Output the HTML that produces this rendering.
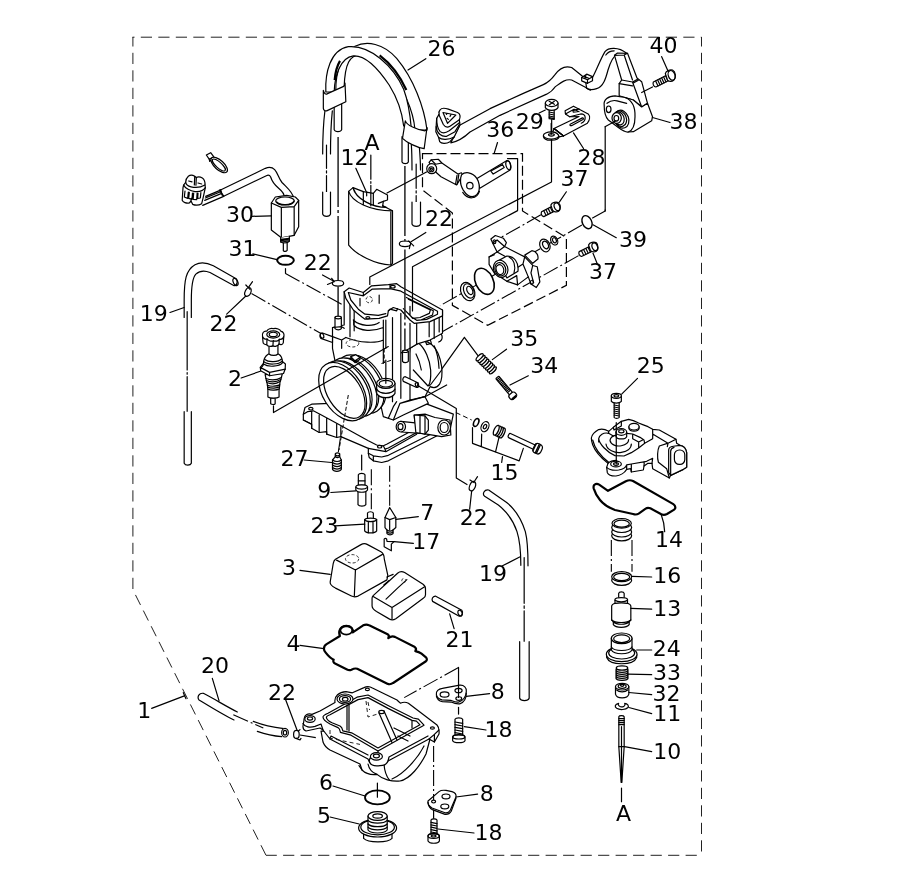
<!DOCTYPE html>
<html><head><meta charset="utf-8"><title>Carburetor</title>
<style>
html,body{margin:0;padding:0;background:#fff;}
svg{display:block}
text{font-family:"DejaVu Sans","Liberation Sans",sans-serif;font-size:22px;fill:#000;}
.l{fill:none;stroke:#000;stroke-width:1.2;stroke-linecap:round;stroke-linejoin:round}
.w{fill:#fff;stroke:#000;stroke-width:1.2;stroke-linecap:round;stroke-linejoin:round}
.d{fill:none;stroke:#222;stroke-width:1;stroke-dasharray:11.2 6.3}
.c{fill:none;stroke:#000;stroke-width:1.1;stroke-dasharray:16 3 2 3}
.t{fill:none;stroke:#000;stroke-width:0.75}
.r{fill:none;stroke:#222;stroke-width:1.5;stroke-dasharray:70 3 3 3}
.d2{fill:none;stroke:#000;stroke-width:1.2;stroke-dasharray:10 4}
.z *{vector-effect:non-scaling-stroke}
.g{fill:none;stroke:#000;stroke-width:2.2;stroke-linejoin:round}
</style></head><body>
<svg width="903" height="870" viewBox="0 0 903 870">
<rect width="903" height="870" fill="#fff"/>
<!-- BORDER -->
<path class="d" d="M132.5 37.2H701.5" stroke-dashoffset="9.2"/>
<path class="d" d="M701.5 37V855.3" stroke-dashoffset="1.7"/>
<path class="d" d="M132.9 37V590.5" stroke-dashoffset="1.7"/>
<path class="d" d="M133.5 591L266 855.3" stroke-dashoffset="13.1"/>
<path class="d" d="M266 855.3H701.5" stroke-dashoffset="0.4"/>
<!-- PARTS -->
<!-- part 30 area, 6x from (170,140) -->
<g transform="translate(170,140) scale(0.16667)" class="z">
<!-- tube -->
<path class="w" d="M744,352 C735,310 700,285 672,255 C650,228 648,200 628,178 C612,162 592,162 572,170 L300,302 L322,338 L578,214 C590,208 598,210 604,222 C612,250 630,272 655,292 C680,312 690,330 684,354 Z"/>
<path class="l" d="M296,300 L322,338 M304,297 L312,330"/>
<!-- wires -->
<path class="l" d="M300,302 L214,338 M310,320 L208,362 M322,338 L196,392 M300,312 L212,348"/>
<!-- solenoid -->
<path class="w" d="M608,378 L632,342 L700,332 L752,342 L772,362 L772,520 L745,572 L668,587 L608,540 Z"/>
<path class="l" d="M608,378 L668,404 L745,400 L772,362 M668,404 V587 M745,400 V572"/>
<ellipse class="l" cx="690" cy="366" rx="56" ry="24"/>
<path class="l" d="M640,372 C660,395 730,392 744,366"/>
<path class="w" d="M664,586 V612 L680,618 V664 C688,670 698,668 703,662 V616 L716,608 V578"/>
<path class="l" d="M664,596 L716,590 M664,604 L716,598 M664,612 L716,606 M680,618 L703,616"/>
<!-- o-ring 31 -->
<ellipse cx="693" cy="722" rx="50" ry="27" fill="none" stroke="#000" stroke-width="2"/>
<!-- leaders -->
<path class="l" d="M490,458 L608,455 M497,683 L642,718"/>
<path class="l" d="M693,772 V800"/>
<!-- connector -->
<g transform="translate(30,30) scale(0.4)">
<path class="w" d="M160,560 C160,520 175,490 200,468 C225,450 265,450 295,468 L318,488 C340,478 380,478 410,495 C440,515 452,560 450,600 L455,640 L420,800 L400,880 C360,905 300,905 265,890 L240,840 L215,870 C170,880 120,860 108,830 L120,640 L130,600 Z"/>
<path class="l" d="M160,560 C165,590 190,615 240,628 C290,640 380,640 450,600 M130,600 C150,650 230,690 300,698 C360,705 420,690 455,640 M296,470 L290,600 M320,490 L314,604 M205,540 L255,552 M345,570 L400,585 M150,690 L140,780 L190,800 L200,705 M215,712 L205,800 L255,815 L262,720 M280,722 L272,815 L325,820 L332,722 M345,725 L340,800 L380,795 L388,715 M240,840 L245,800"/>
</g>
<!-- clip -->
<path class="w" d="M218,90 L244,76 L262,100 L236,116 Z"/>
<path class="l" d="M236,116 L238,128 L262,112 L262,100"/>
<ellipse class="w" cx="295" cy="150" rx="62" ry="28" transform="rotate(42 295 150)"/>
<ellipse class="l" cx="293" cy="150" rx="50" ry="17" transform="rotate(42 293 150)"/>
</g>

<!-- hoses 26, 6x from (300,30) -->
<g transform="translate(300,30) scale(0.16667)" class="z">
<!-- lower legs -->
<path class="w" d="M205,440 V598 C210,614 245,614 250,598 V420 Z"/>
<path class="w" d="M612,640 V792 C618,805 645,805 650,792 V660 Z"/>
<path class="l" d="M150,480 C140,560 136,650 136,744 M194,485 C186,560 183,650 183,744"/>
<path class="l" d="M159,690 V830 M159,845 V858 M159,873 V1010"/>
<path class="w" d="M136,972 V1105 C141,1122 178,1122 183,1105 V972"/>
<path class="l" d="M668,690 C672,740 672,790 672,840 M716,700 C720,750 723,790 723,840"/>
<path class="l" d="M697,804 V950 M697,965 V978 M697,993 V1075"/>
<path class="w" d="M672,1032 V1165 C677,1182 718,1182 723,1165 V1032"/>
<!-- rear tube -->
<path class="w" d="M215,365 C213,250 250,140 330,98 C400,62 500,80 580,170 C680,290 745,460 762,600 L690,600 C680,480 620,350 540,260 C480,200 420,160 360,150 C300,150 270,200 265,340 Z"/>
<!-- front tube -->
<path class="w" d="M155,372 C150,260 180,120 290,100 C420,88 560,215 622,355 C650,430 662,520 668,592 L622,575 C612,490 585,410 535,330 C475,240 400,150 320,155 C240,165 208,280 205,372 Z"/>
<path d="M208,300 C212,250 222,215 240,185 M478,152 C548,205 600,275 638,360" fill="none" stroke="#000" stroke-width="2.2"/>
<!-- clamps -->
<path class="w" d="M140,362 C145,385 155,388 165,382 L262,338 C270,332 272,325 270,318 L275,430 L160,485 C148,488 142,480 140,470 Z"/>
<path class="w" d="M632,545 C640,570 700,600 750,605 C760,600 765,592 762,585 L745,712 C700,705 640,675 615,650 Z"/>
<!-- leader 26 -->
<path class="l" d="M755,172 L648,240"/>
</g>
<!-- slide 12 etc, 6x from (300,175) -->
<g transform="translate(300,175) scale(0.16667)" class="z">
<path class="w" d="M380,100 L440,110 L460,86 L525,120 V150 L500,158 L496,185 L555,215 V530 L545,540 C450,535 340,480 292,420 V98 L318,76 L380,100 Z"/>
<path class="l" d="M292,98 C310,160 420,215 555,215 M318,78 C335,140 430,195 520,195 L496,185 M380,100 V180 M440,110 V180 M400,100 V125 M545,222 V540 M470,170 L500,158 M318,76 L330,100"/>
<!-- clips 22 -->
<ellipse class="w" cx="228" cy="650" rx="34" ry="17"/>
<path class="l" d="M165,657 L200,642 M190,620 L206,640"/>
<ellipse class="w" cx="630" cy="413" rx="34" ry="17"/>
<path class="l" d="M652,395 L682,425 M656,442 L660,422"/>
<path class="l" d="M755,345 L666,400 M135,600 L198,634"/>
<!-- 12 leader and A line -->
<path class="l" d="M335,-40 L395,95"/>
<path class="l" d="M425,-120 V25 M425,40 V50 M425,62 V185"/>
</g>

<!-- hose+connector, 6x from (420,60) -->
<g transform="translate(420,60) scale(0.16667)" class="z">
<!-- hose -->
<path class="w" d="M238,392 L420,292 L620,200 L740,148 C770,135 790,115 810,88 C840,45 870,32 910,45 L975,98 L1035,105 C1060,60 1080,0 1110,-50 C1130,-75 1190,-80 1240,-40 L1180,-32 C1155,-20 1140,20 1128,60 C1115,110 1100,160 1060,172 C1030,182 1010,180 995,165 L910,120 C870,112 840,140 810,162 C800,178 780,195 760,205 L480,332 L300,432 C260,470 230,488 185,497 Z"/>
<!-- connector -->
<path class="w" d="M120,300 C130,285 150,288 170,295 L225,315 C245,325 242,345 236,360 L240,390 L205,462 L180,490 C160,502 130,505 118,490 L112,465 L95,430 L100,350 L115,325 C112,312 115,305 120,300 Z"/>
<path class="l" d="M236,358 L180,397 C165,407 150,402 140,387 L113,327 M138,315 L215,330 L165,380 Z M100,350 C100,390 108,415 120,428 C135,442 155,438 175,425 L238,375 M97,400 C100,440 130,462 160,458 L210,430 L236,388 M112,465 C130,480 170,480 205,462 M155,320 L160,326 M185,330 L180,338 M163,350 L170,356"/>
<!-- lever 36 -->
<g transform="translate(-120,540) scale(1.069)">
<path class="w" d="M432,160 L598,60 C618,55 625,85 618,112 L448,215 Z"/>
<path class="l" d="M510,118 L575,82 L585,98 L523,135 Z"/>
<ellipse class="l" cx="608" cy="86" rx="13" ry="26" transform="rotate(-15 608 86)"/>
<path class="w" d="M163,70 L175,55 L215,52 L235,73 L325,135 L345,128 L352,140 L318,196 L230,150 L205,128 Z"/>
<path class="l" d="M320,142 L312,192 M330,138 L322,190 M175,55 L200,80 L235,73"/>
<path class="w" d="M345,140 C355,130 372,126 385,128 C405,132 420,142 430,158 C442,175 447,200 444,225 C440,245 425,260 405,262 C385,262 368,245 355,225 C345,208 338,190 340,170 C340,158 342,148 345,140 Z"/>
<circle class="l" cx="392" cy="200" r="18"/>
<path class="l" d="M352,238 C365,258 385,270 405,268 C425,266 440,250 446,232"/>
<circle class="w" cx="178" cy="105" r="28"/>
<circle class="l" cx="176" cy="108" r="14"/>
<circle class="l" cx="176" cy="108" r="6"/>
</g>
<path class="l" d="M465,495 L445,560"/>
<!-- screw 29 -->
<path class="w" d="M775,298 V352 L805,356 V298 Z"/>
<path class="l" d="M775,312 L805,318 M775,324 L805,330 M775,336 L805,342 M775,346 L805,352"/>
<path class="w" d="M752,258 V286 C765,308 815,308 828,286 V258 Z"/>
<ellipse class="w" cx="790" cy="258" rx="38" ry="22"/>
<path class="l" d="M775,248 L806,266 M806,248 L776,268"/>
<path class="l" d="M715,318 L752,300  M790,357 V455"/>
</g>
<!-- bracket 28, 8.97x from (530,90) -->
<g transform="translate(530,90) scale(0.11148)" class="z">
<path class="w" d="M315,187 L390,145 L522,215 C540,235 538,270 515,298 L300,412 L215,346 L440,238 L355,240 L318,215 Z"/>
<path class="l" d="M318,215 L395,172 L440,195 M385,185 L440,170 M385,185 L388,198 L425,195 M355,240 L455,215 C480,215 495,230 495,250 C495,270 480,290 460,298 M360,308 L470,250 C480,248 482,258 475,264 L372,320 C360,322 355,314 360,308 Z M215,346 L300,412"/>
<ellipse class="w" cx="190" cy="408" rx="70" ry="32"/>
<path class="l" d="M120,415 C125,440 160,452 195,450 C230,450 258,435 262,415"/>
<ellipse class="l" cx="192" cy="402" rx="26" ry="11"/>
<path class="w" d="M215,346 L300,412 L262,420 C255,395 235,380 205,376 Z" stroke="none"/>
<path class="l" d="M215,346 L300,412 M190,300 V400"/>
<path class="l" d="M390,385 L480,525"/>
</g>
<!-- sensor 38 / screw 40, 6x from (555,30) -->
<g transform="translate(555,30) scale(0.16667)" class="z">
<!-- hose right part -->
<path class="l" d="M305,150 C315,135 335,125 355,125"/>
<path class="w" d="M160,285 L190,265 L225,280 V305 L195,320 L160,305 Z"/>
<path class="l" d="M160,285 L195,298 L225,280 M195,298 V320 M185,318 L190,350 L212,362 M175,280 L200,288 M185,272 L180,292"/>
<!-- sensor stalk -->
<path class="w" d="M357,152 L375,138 L435,140 L492,288 L520,310 L555,440 L520,462 L470,420 L385,395 L385,322 L400,300 Z"/>
<path class="l" d="M415,150 L465,300 M400,300 L465,312 L495,296 M465,312 L520,462 M385,322 L465,335 M357,152 L415,150 L435,140 M470,318 L500,302"/>
<!-- sensor body -->
<path class="w" d="M295,450 C290,420 320,395 360,395 L420,405 L470,420 L520,462 L555,440 L585,520 L580,545 L470,610 L440,612 C420,615 400,600 380,585 L320,540 C300,520 295,480 295,450 Z"/>
<path class="l" d="M420,405 C460,420 482,460 480,520 C480,570 470,600 440,612 M312,440 C330,425 350,420 372,425 L430,440"/>
<ellipse class="l" cx="322" cy="476" rx="14" ry="20"/>
<ellipse class="w" cx="400" cy="535" rx="42" ry="55" transform="rotate(-20 400 535)"/>
<ellipse class="l" cx="392" cy="532" rx="36" ry="48" transform="rotate(-20 392 532)"/>
<ellipse class="l" cx="384" cy="530" rx="30" ry="40" transform="rotate(-20 384 530)"/>
<ellipse class="w" cx="370" cy="528" rx="28" ry="32"/>
<ellipse class="l" cx="368" cy="530" rx="14" ry="17"/>
<path class="l" d="M690,555 L585,525 M366,545 L300,580"/>
<!-- screw 40 -->
<path class="w" d="M590,312 L672,270 L688,300 L605,342 C592,340 585,325 590,312 Z"/>
<path class="l" d="M604,306 L618,336 M616,300 L630,330 M628,294 L642,324 M640,288 L654,318 M652,282 L666,312 M664,276 L678,306"/>
<path class="w" d="M662,262 C665,245 690,235 705,240 C725,250 728,285 712,302 C700,312 682,310 675,300 Z"/>
<ellipse class="l" cx="700" cy="272" rx="20" ry="30" transform="rotate(-20 700 272)"/>
<path class="l" d="M640,160 L680,250 M520,375 L585,342"/>
</g>

<!-- box 36 dashed -->
<path class="d2" d="M422.5,153.7 H522.5 V211 L566.4,237.5 V285.3 L487.7,325.3 L452.4,305.3 V213 L422.5,190 Z"/>
<!-- pump area, 4.51x from (440,190) -->
<g transform="translate(440,190) scale(0.22173)" class="z">
<!-- axis lines -->
<path class="c" d="M640,158 L0,522"/>
<path class="c" d="M625,296 L0,645"/>
<path class="c" d="M455,112 L250,228"/>
<!-- seal -->
<ellipse class="w" cx="125" cy="458" rx="30" ry="43" transform="rotate(-25 125 458)"/>
<ellipse class="w" cx="130" cy="455" rx="22" ry="34" transform="rotate(-25 130 455)"/>
<ellipse class="w" cx="134" cy="453" rx="12" ry="20" transform="rotate(-25 134 453)"/>
<!-- big o-ring -->
<ellipse cx="200" cy="412" rx="40" ry="62" transform="rotate(-25 200 412)" fill="#fff" stroke="#000" stroke-width="1.6"/>
<!-- pump body -->
<g transform="scale(0.80357) translate(-224.5,-224.5)">
<path class="w" d="M510,500 L535,480 L580,495 L597,520 L587,542 L700,600 L745,648 L770,655 L785,740 L765,772 L735,752 L720,712 L660,757 L600,737 L530,692 L500,642 V600 L545,572 L520,522 Z"/>
<path class="l" d="M520,522 L545,505 L587,542 M545,572 L587,542 M545,572 L640,625 M700,600 L690,640 L720,712 M690,640 L660,660 M745,648 L735,690 L750,745 M500,600 L530,588 M600,737 L655,705 L660,757"/>
<ellipse class="l" cx="530" cy="515" rx="8" ry="11"/>
<ellipse class="l" cx="740" cy="742" rx="8" ry="11"/>
<path class="w" d="M700,590 L740,565 C765,568 778,590 774,612 L745,636 Z"/>
<path class="w" d="M545,625 L600,595 C640,595 668,630 662,680 L600,718 Z"/>
<path class="l" d="M612,600 C640,615 650,650 640,690"/>
<ellipse class="w" cx="565" cy="667" rx="40" ry="49" transform="rotate(-18 565 667)"/>
<ellipse class="l" cx="563" cy="669" rx="30" ry="38" transform="rotate(-18 563 669)"/>
<ellipse class="l" cx="561" cy="671" rx="21" ry="28" transform="rotate(-18 561 671)"/>
</g>
<!-- washers -->
<ellipse class="w" cx="473" cy="250" rx="22" ry="30" transform="rotate(-25 473 250)"/>
<ellipse class="w" cx="476" cy="248" rx="12" ry="18" transform="rotate(-25 476 248)"/>
<ellipse class="w" cx="515" cy="228" rx="15" ry="21" transform="rotate(-25 515 228)"/>
<ellipse class="w" cx="516" cy="227" rx="8" ry="12" transform="rotate(-25 516 227)"/>
<!-- o-ring 39 -->
<ellipse cx="663" cy="145" rx="21" ry="31" transform="rotate(-25 663 145)" fill="#fff" stroke="#000" stroke-width="1.4"/>
<path class="l" d="M690,157 L795,215 M745,90 V95 L688,126"/>
<!-- screw 37 top -->
<path class="w" d="M458,98 L505,74 L516,96 L468,120 C458,118 454,106 458,98 Z"/>
<path class="l" d="M468,94 L478,114 M478,89 L488,109 M488,84 L498,104 M498,79 L508,99"/>
<path class="w" d="M500,68 C505,55 525,52 535,58 C545,68 545,88 535,96 C525,102 512,98 508,92 Z"/>
<ellipse class="l" cx="528" cy="76" rx="12" ry="18" transform="rotate(-25 528 76)"/>
<path class="l" d="M570,8 L538,55"/>
<!-- screw 37 right -->
<path class="w" d="M628,278 L676,254 L687,276 L638,300 C628,298 624,286 628,278 Z"/>
<path class="l" d="M638,274 L648,294 M648,269 L658,289 M658,264 L668,284 M668,259 L678,279"/>
<path class="w" d="M670,248 C675,235 695,232 705,238 C715,248 715,268 705,276 C695,282 682,278 678,272 Z"/>
<ellipse class="l" cx="698" cy="256" rx="12" ry="18" transform="rotate(-25 698 256)"/>
<path class="l" d="M690,285 L710,335"/>
<!-- spring 35 and leaders -->
<path class="l" d="M110,665 L172,748 M110,665 L-44,880 M300,718 L236,765"/>
<g transform="rotate(45 210 785)" fill="#fff" stroke="#000" stroke-width="1.3">
<ellipse cx="250" cy="785" rx="8" ry="21"/><ellipse cx="238" cy="785" rx="8" ry="21"/><ellipse cx="226" cy="785" rx="8" ry="21"/><ellipse cx="214" cy="785" rx="8" ry="21"/><ellipse cx="202" cy="785" rx="8" ry="21"/><ellipse cx="190" cy="785" rx="8" ry="21"/><ellipse cx="178" cy="785" rx="8" ry="21"/><ellipse cx="166" cy="785" rx="8" ry="21"/>
</g>
</g>

<!-- CARB BODY, 6x from (310,270) -->
<g transform="translate(310,270) scale(0.16667)" class="z">
<!-- flange -->
<path class="w" d="M-30,825 L10,805 L120,800 L690,800 L860,865 L840,960 L780,985 L470,1145 L430,1155 L380,1145 L355,1125 L350,1100 L350,1070 L185,1000 L160,1005 L100,985 L100,970 L55,975 L10,950 L10,925 L-40,900 L-40,865 Z"/>
<path class="l" d="M-40,865 L-15,850 L20,845 L60,865 L160,920 L350,1025 L400,1050 L440,1055 L450,1075 L455,1090 L350,1070 M455,1090 L640,985 M450,1075 L470,1068 L640,975 M440,1055 L460,1045 L600,970 M-40,900 L10,925 M185,1000 V940 M160,1005 V925 M100,985 V890 M55,975 L55,870 M10,950 L10,850 M350,1100 L380,1115 L430,1122 L470,1112 L760,968 M380,1115 L380,1145"/>
<ellipse class="l" cx="5" cy="832" rx="13" ry="8"/>
<ellipse class="l" cx="418" cy="1060" rx="13" ry="8"/>
<!-- right bell -->
<path class="w" d="M600,470 L640,445 C700,400 770,450 790,580 C800,680 770,720 720,700 L690,760 L560,800 Z"/>
<path class="l" d="M652,440 C690,470 720,540 724,600 C726,650 720,680 712,690 M636,504 C650,530 662,565 668,600 M745,455 C765,500 772,540 774,590 M620,600 L708,696 L722,690 L790,600 M690,420 L720,412 L728,440 L700,448 Z M695,428 L722,420 M690,760 L820,690 M772,376 C800,385 800,420 772,432"/>
<!-- body walls -->
<path class="w" d="M205,130 L795,240 L795,380 L720,420 L640,445 L600,470 L600,780 L690,760 L710,800 L560,870 L500,900 L440,880 L400,700 L330,560 L150,545 L135,470 V345 L205,330 Z"/>
<!-- left tubes -->
<path class="w" d="M75,378 L135,400 V435 L65,410 C55,400 60,380 75,378 Z"/>
<ellipse class="l" cx="72" cy="394" rx="10" ry="16" transform="rotate(-20 72 394)"/>
<path class="w" d="M150,285 V352 C160,362 180,362 188,352 V285 Z"/>
<ellipse class="w" cx="169" cy="285" rx="19" ry="8"/>
<path class="l" d="M135,345 L190,340 L205,350 M135,400 L190,420 L190,470 M190,420 L215,405"/>
<!-- walls detail -->
<path class="l" d="M240,160 V400 M265,240 V365 M440,300 V560 M455,300 V470 M495,285 V790 M545,260 V770 M600,320 V470 M715,292 V400 M745,292 V410 M775,285 V372 M260,300 C300,340 380,340 415,315 M262,330 C300,370 380,370 440,345 M262,300 V330 M215,405 C300,440 400,440 440,420 M600,470 L545,500 M640,445 L640,320"/>
<ellipse cx="255" cy="440" rx="38" ry="22" fill="none" stroke="#333" stroke-width="1" stroke-dasharray="3 2"/>
<!-- top rim -->
<path class="w" d="M205,130 L235,108 L320,135 L370,95 L470,88 L520,82 L545,100 L795,240 V275 L720,310 L625,320 L600,300 L545,240 L500,225 L470,245 L465,275 L415,290 L330,295 L310,280 L260,240 L215,170 Z"/>
<path class="l" d="M230,135 L320,155 L372,115 L480,112 L540,125 L765,248 L765,265 L700,296 L640,302 L610,282 L560,232 M230,135 L245,180 L290,235 L330,265 L410,272 L455,262 M590,175 L722,240 L716,260 L660,285 L616,290 L600,272 V218 M578,165 L740,245 L735,270 L665,300 M300,170 V215 M415,150 V200 M320,155 V135 M480,112 V90 M470,245 L480,235 L520,245 L525,232"/>
<ellipse class="l" cx="497" cy="100" rx="14" ry="8"/>
<ellipse class="l" cx="347" cy="287" rx="12" ry="7"/>
<circle cx="355" cy="178" r="19" fill="none" stroke="#333" stroke-width="1" stroke-dasharray="3 2"/>
<!-- right pins -->
<path class="w" d="M555,488 V548 C562,558 582,558 590,548 V488 Z"/>
<ellipse class="w" cx="572" cy="488" rx="17" ry="7"/>
<path class="w" d="M572,640 L650,678 L640,705 L560,668 C552,655 560,640 572,640 Z"/>
<ellipse class="l" cx="642" cy="690" rx="9" ry="14" transform="rotate(-25 642 690)"/>
<!-- venturi rings -->
<ellipse class="w" cx="318" cy="677" rx="114" ry="182" transform="rotate(-32 318 677)"/>
<ellipse class="w" cx="300" cy="685" rx="120" ry="192" transform="rotate(-32 300 685)"/>
<ellipse class="w" cx="276" cy="695" rx="114" ry="182" transform="rotate(-32 276 695)"/>
<ellipse class="w" cx="258" cy="703" rx="120" ry="192" transform="rotate(-32 258 703)"/>
<ellipse class="w" cx="236" cy="712" rx="114" ry="182" transform="rotate(-32 236 712)"/>
<ellipse class="w" cx="218" cy="720" rx="120" ry="192" transform="rotate(-32 218 720)"/>
<ellipse class="w" cx="196" cy="730" rx="120" ry="192" transform="rotate(-32 196 730)"/>
<ellipse class="l" cx="206" cy="734" rx="100" ry="172" transform="rotate(-32 206 734)"/>
<path class="w" d="M245,520 L275,508 L300,525 L270,545 Z"/>
<path class="l" d="M245,520 V532 L270,556 V545 M270,556 L300,536 V525"/>
<!-- jet tube -->
<path class="w" d="M400,680 V740 C420,775 490,775 510,740 V680 Z"/>
<ellipse class="w" cx="455" cy="680" rx="55" ry="30"/>
<ellipse class="l" cx="455" cy="682" rx="40" ry="20"/>
<path class="l" d="M400,715 C420,748 490,748 510,715"/>
<path class="l" d="M455,540 V680" />
<!-- lower body lines -->
<path class="l" d="M500,900 L540,800 L690,760 M520,790 L500,820 L470,890 M600,780 L540,800"/>
<!-- inlet banjo -->
<path class="w" d="M625,870 L690,865 L750,885 L840,900 L845,990 L790,1000 L700,985 L635,975 Z"/>
<path class="w" d="M545,908 L660,920 V980 L550,972 Z"/>
<ellipse class="w" cx="545" cy="940" rx="28" ry="32"/>
<ellipse class="l" cx="543" cy="940" rx="15" ry="18"/>
<path class="w" d="M625,870 L690,875 L710,900 V960 L690,985 L635,975 Z"/>
<path class="l" d="M690,875 V985 M660,872 V978"/>
<ellipse class="w" cx="805" cy="945" rx="38" ry="45"/>
<ellipse class="l" cx="805" cy="945" rx="24" ry="30"/>
</g>

<!-- hose 19 left + clip 22, 6x from (170,250) -->
<g transform="translate(170,250) scale(0.16667)" class="z">
<path class="w" d="M85,405 V300 C85,180 95,120 150,88 C190,68 230,80 260,95 L392,170 C410,180 405,215 385,214 L240,135 C210,122 180,122 155,145 C132,170 128,230 128,300 V405"/>
<ellipse class="l" cx="393" cy="192" rx="13" ry="23" transform="rotate(-25 393 192)"/>
<path class="l" d="M103,370 V720 M103,735 V745 M103,760 V1000"/>
<path class="w" d="M85,970 V1280 C92,1295 122,1295 128,1280 V970"/>
<path class="l" d="M0,375 L85,345"/>
<ellipse class="w" cx="468" cy="252" rx="17" ry="28" transform="rotate(25 468 252)"/>
<path class="l" d="M455,210 L480,236 M495,190 L470,226 M340,385 L455,276"/>
</g>
<!-- part 2, 8.97x from (230,320) -->
<g transform="translate(230,320) scale(0.11148)" class="z">
<path class="w" d="M365,700 V752 C375,760 398,760 405,752 V700 Z"/>
<path class="w" d="M340,600 V690 C360,705 420,705 440,690 V600 Z"/>
<path class="w" d="M332,560 L340,620 C370,635 420,630 442,618 L450,545 Z"/>
<path class="l" d="M336,585 C370,600 420,595 446,582 M338,602 C370,615 420,612 444,600"/>
<path class="w" d="M315,490 L330,560 C370,578 420,572 452,550 L470,480 Z"/>
<path class="l" d="M322,525 C370,545 420,540 462,515 M326,542 C370,562 420,556 456,534"/>
<path class="w" d="M272,425 L300,388 L470,372 L497,395 L495,440 L480,480 L355,500 L275,455 Z"/>
<path class="l" d="M272,425 L355,470 L497,440 M355,470 V500 M275,440 L300,400"/>
<path class="w" d="M300,395 C300,350 320,320 345,305 L435,305 C460,320 472,350 470,385 C440,420 340,425 300,395 Z"/>
<path class="l" d="M305,375 C340,405 440,400 468,368 M312,355 C345,382 435,378 462,350"/>
<path class="w" d="M350,215 V305 C370,322 415,322 430,305 V215 Z"/>
<path class="w" d="M292,150 C285,120 300,95 330,100 C340,80 370,70 390,78 C420,70 450,85 455,100 C480,105 490,130 482,150 L478,205 C470,225 450,222 440,215 C430,235 400,240 385,232 C365,242 335,235 330,222 C310,222 295,210 296,195 Z"/>
<path class="l" d="M292,150 C300,170 320,175 332,168 C345,190 375,195 388,185 C405,195 435,190 442,172 C460,175 478,165 482,150 M332,168 L330,222 M388,185 L385,232 M442,172 L440,215"/>
<ellipse class="l" cx="388" cy="130" rx="58" ry="32"/>
<ellipse class="l" cx="388" cy="130" rx="36" ry="20"/>
<path class="l" d="M100,520 L272,460 M390,770 V830 L1420,238"/>
</g>

<!-- small jets, 6x from (290,440) -->
<g transform="translate(290,440) scale(0.16667)" class="z">
<!-- 27 -->
<path class="w" d="M272,82 V100 L255,120 V175 C262,192 300,192 308,175 V120 L298,100 V82 C292,76 278,76 272,82 Z"/>
<path class="l" d="M255,135 C270,148 295,148 308,135 M255,150 C270,163 295,163 308,150 M255,165 C270,178 295,178 308,165 M272,100 C280,106 292,106 298,100 M272,90 C280,96 292,96 298,90 M255,120 C270,132 295,132 308,120"/>
<path class="l" d="M85,120 L250,135"/>
<path class="c" d="M302,-10 L290,72"/>
<!-- 9 -->
<path class="w" d="M410,208 C415,198 445,198 450,208 V270 H410 Z"/>
<path class="w" d="M408,305 V388 C415,400 448,400 455,388 V305 Z"/>
<path class="w" d="M395,280 C400,265 460,265 465,280 V300 C455,318 405,318 395,300 Z"/>
<path class="l" d="M395,284 C410,298 450,298 465,284 M410,245 H450"/>
<path class="l" d="M245,315 L395,305 M430,90 V180"/>
<!-- 23 -->
<path class="w" d="M465,438 C470,428 495,428 500,438 V472 H465 Z"/>
<path class="w" d="M448,478 C455,465 512,465 520,478 V545 C510,562 458,562 448,545 Z"/>
<path class="l" d="M470,492 V556 M498,492 V556 M448,478 C458,494 510,494 520,478"/>
<path class="l" d="M270,515 L448,505"/>
<path class="c" d="M488,175 V428"/>
<!-- 7 -->
<path class="w" d="M598,405 L570,465 V525 L582,540 V562 C590,572 610,572 618,562 V540 L635,525 V465 Z"/>
<path class="l" d="M570,465 L598,478 L635,465 M598,478 V538 M582,540 C592,548 608,548 618,540 M582,552 C592,560 608,560 618,552"/>
<path class="l" d="M770,460 L636,476"/>
<path class="c" d="M598,155 V400"/>
<!-- 17 -->
<path class="w" d="M565,600 C562,590 575,588 580,595 L582,608 L625,610 L608,625 V665 L565,640 Z"/>
<path class="l" d="M740,620 L625,610"/>
</g>
<!-- floats, gasket 4, pin 21, 4.51x from (300,530) -->
<g transform="translate(300,530) scale(0.22173)" class="z">
<!-- float block 1 -->
<path class="w" d="M160,132 L275,66 C285,60 295,60 305,66 L365,98 C375,104 380,115 380,130 L396,205 L392,225 L262,298 C250,303 240,302 232,298 L160,262 C145,254 135,245 136,235 L150,150 C152,140 155,136 160,132 Z"/>
<path class="l" d="M165,136 L250,180 L372,110 M250,180 L245,298"/>
<ellipse cx="235" cy="130" rx="30" ry="19" fill="none" stroke="#333" stroke-width="1" stroke-dasharray="3 2"/>
<path class="l" d="M0,182 L136,200"/>
<!-- float block 2 -->
<path class="w" d="M330,296 L440,195 C450,186 462,186 472,192 L555,245 C565,252 567,260 566,270 L566,292 C566,300 562,305 556,308 L432,400 C422,406 412,406 404,402 L345,368 C332,360 325,352 325,342 V308 C325,302 327,299 330,296 Z"/>
<path class="l" d="M330,300 L415,350 L562,256 M415,350 V400 M388,312 L440,262 L482,224"/>
<circle cx="468" cy="228" r="9" fill="none" stroke="#333" stroke-width="1" stroke-dasharray="3 2"/>
<path class="l" d="M378,248 L402,228 M392,212 L420,200"/>
<!-- pin 21 -->
<path class="w" d="M610,298 L730,362 C738,372 730,392 716,388 L598,322 C592,312 598,300 610,298 Z"/>
<ellipse class="l" cx="722" cy="375" rx="9" ry="14" transform="rotate(-25 722 375)"/>
<path class="l" d="M675,378 L695,445"/>
<!-- gasket 4 -->
<path class="g" d="M108,535 C108,525 112,520 120,515 L180,478 C170,455 185,432 210,432 C232,434 242,448 238,462 L285,430 C295,425 303,425 312,430 L395,470 C402,475 402,482 398,488 C408,480 418,478 428,482 L518,528 C525,533 524,540 520,546 C530,548 540,552 548,558 L568,574 C574,580 573,588 568,592 L420,690 C412,696 402,697 394,693 L258,626 C248,622 240,626 232,630 C225,633 218,632 212,629 L158,602 C150,598 148,590 152,585 C140,580 125,565 115,552 C110,546 108,540 108,535 Z"/>
<path class="l" d="M0,520 L108,535"/>
<ellipse cx="209" cy="452" rx="27" ry="20" fill="none" stroke="#000" stroke-width="1.8"/>
<!-- part 8 upper -->
<path class="w" d="M615,742 C612,728 625,716 642,714 L720,700 C740,698 752,712 750,728 C750,750 735,772 715,776 C700,778 690,772 680,768 L640,766 C625,762 617,754 615,742 Z"/>
<path class="l" d="M615,748 C618,764 630,772 642,774 L682,776 C695,782 708,786 720,784 C738,778 750,760 750,736"/>
<ellipse class="l" cx="652" cy="742" rx="20" ry="12"/>
<ellipse class="l" cx="715" cy="724" rx="16" ry="10"/>
<ellipse class="l" cx="716" cy="760" rx="13" ry="8"/>
<path class="l" d="M750,750 L855,738 M715,620 V755"/>
<path class="c" d="M715,620 L470,756"/>
<path class="l" d="M715,800 V830"/>
</g>

<!-- float bowl etc, 5x from (280,670) -->
<g transform="translate(280,670) scale(0.2)" class="z">
<!-- bowl body -->
<path class="w" d="M205,305 L215,360 C225,385 240,395 250,400 L400,470 L410,500 C430,520 460,525 485,522 C510,545 560,560 600,555 C650,545 700,480 730,420 L750,345 Z"/>
<path class="l" d="M520,470 C522,500 530,530 548,552 M440,470 C445,495 465,515 485,522 M395,478 L410,500 M560,545 C620,520 690,440 720,380"/>
<!-- flange -->
<path class="w" d="M120,250 C118,225 140,215 160,222 L200,205 L275,162 C270,130 295,110 330,108 L362,114 L420,88 C435,80 450,82 462,90 L585,150 C592,156 598,162 602,166 C615,160 630,160 642,166 L785,275 C795,285 797,300 795,320 L772,360 L745,345 L540,455 C535,470 520,478 500,478 C475,482 455,475 448,462 L440,445 L250,345 L215,300 L200,290 L130,305 C118,300 114,290 115,280 Z"/>
<path class="l" d="M115,268 C125,285 150,290 175,282 L205,270 L215,300 M745,345 L772,322 L795,300 M772,322 V360 M540,455 L545,435 L740,330 M448,462 C445,450 450,440 455,435 M250,345 L255,330 L440,425"/>
<!-- gasket groove -->
<path class="l" d="M215,235 C215,250 235,262 250,270 L290,288 C300,294 300,304 302,312 L355,326 L490,405 L720,276 L692,246 L665,240 L545,180 L440,125 L385,136 L240,216 C225,222 215,228 215,235 Z"/>
<path class="l" d="M232,236 C232,248 248,258 260,264 L300,280 C312,288 312,296 314,304 L358,314 L490,390 L700,274 L682,256 L660,252 L540,192 L440,138 L390,148 L250,224 C238,228 232,232 232,236 Z"/>
<!-- inner -->
<path class="l" d="M335,175 V300 M345,170 V305 M660,255 V290 M490,405 V425 M495,215 L560,362 M520,205 L585,350 M590,330 L640,355 M570,290 L650,330"/>
<ellipse class="l" cx="508" cy="210" rx="14" ry="8"/>
<path d="M430,155 L440,235 L495,218 M440,160 L448,200 M245,340 L400,372 M250,300 V345" fill="none" stroke="#222" stroke-width="1" stroke-dasharray="4 3"/>
<!-- bosses -->
<ellipse class="w" cx="150" cy="245" rx="26" ry="17"/>
<ellipse class="l" cx="150" cy="243" rx="13" ry="8"/>
<ellipse class="w" cx="325" cy="145" rx="40" ry="25"/>
<ellipse class="l" cx="325" cy="145" rx="28" ry="17"/>
<ellipse class="l" cx="326" cy="146" rx="14" ry="9"/>
<ellipse class="w" cx="482" cy="432" rx="30" ry="19"/>
<ellipse class="l" cx="482" cy="430" rx="15" ry="9"/>
<ellipse class="l" cx="437" cy="97" rx="10" ry="6"/>
<ellipse class="l" cx="762" cy="290" rx="10" ry="6"/>
<!-- clip 22 & hose end -->
<ellipse class="w" cx="82" cy="322" rx="14" ry="20"/>
<path class="l" d="M92,305 L100,298 M80,342 L100,350 L105,342 M25,140 L85,300"/>
<path class="c" d="M100,325 L190,340"/>
<!-- o-ring 6 -->
<ellipse cx="487" cy="637" rx="62" ry="35" fill="#fff" stroke="#000" stroke-width="1.8"/>
<path class="l" d="M487,565 V636 M265,580 L425,630"/>
<!-- drain plug 5 -->
<path class="w" d="M418,815 V842 C440,865 540,865 560,842 V815 Z"/>
<ellipse class="w" cx="488" cy="790" rx="95" ry="45"/>
<ellipse class="l" cx="488" cy="786" rx="84" ry="38"/>
<path class="w" d="M440,730 V800 C455,820 520,820 536,800 V730 Z"/>
<path class="l" d="M440,752 C455,770 520,770 536,752 M440,770 C455,788 520,788 536,770 M440,786 C455,804 520,804 536,786"/>
<ellipse class="w" cx="488" cy="730" rx="48" ry="22"/>
<ellipse class="l" cx="488" cy="730" rx="24" ry="11"/>
<path class="l" d="M250,735 L396,770"/>
<!-- plate 8 lower -->
<path class="w" d="M740,655 L795,608 C805,600 815,600 830,602 L860,608 C875,612 882,622 880,635 L852,700 C845,712 835,716 825,714 L760,690 C745,682 738,668 740,655 Z"/>
<path class="l" d="M740,662 C742,680 750,692 762,698 L825,722 C840,724 850,716 856,706 L880,642"/>
<ellipse class="l" cx="768" cy="658" rx="10" ry="7"/>
<ellipse class="l" cx="830" cy="632" rx="20" ry="12"/>
<ellipse class="l" cx="824" cy="682" rx="20" ry="12"/>
<path class="l" d="M880,635 L988,621"/>
<path class="c" d="M768,380 V650"/>
<path class="l" d="M768,700 V745"/>
<!-- screw 18 lower -->
<path class="w" d="M755,750 C760,742 780,742 785,750 V822 H755 Z"/>
<path class="l" d="M755,762 L785,768 M755,774 L785,780 M755,786 L785,792 M755,798 L785,804 M755,810 L785,816"/>
<path class="w" d="M740,828 C745,815 792,815 797,828 V855 C790,870 748,870 740,855 Z"/>
<ellipse class="l" cx="768" cy="830" rx="28" ry="12"/>
<ellipse class="l" cx="768" cy="830" rx="12" ry="5"/>
<path class="l" d="M790,795 L970,815"/>
</g>

<!-- right column, 6x from (565,375) -->
<g transform="translate(565,375) scale(0.16667)" class="z">
<!-- screw 25 -->
<path class="w" d="M295,165 V255 C300,262 320,262 325,255 V165 Z"/>
<path class="l" d="M295,180 L325,186 M295,192 L325,198 M295,204 L325,210 M295,216 L325,222 M295,228 L325,234 M295,240 L325,246"/>
<path class="w" d="M278,125 V158 C288,172 328,172 338,158 V125 Z"/>
<ellipse class="w" cx="308" cy="125" rx="30" ry="15"/>
<ellipse class="l" cx="308" cy="125" rx="14" ry="7"/>
<path class="l" d="M435,20 L340,115"/>
<!-- top cover -->
<g transform="translate(90,210) scale(0.8)">
<path class="w" d="M85,210 C88,190 100,170 140,147 C160,140 185,142 215,160 L250,130 L310,85 L365,70 L400,80 L440,98 L470,110 L510,125 L545,145 L595,150 L720,220 L725,250 L750,265 C775,270 795,290 800,320 V430 L775,445 L680,490 L670,510 L545,440 L540,400 L510,400 L480,420 L475,450 L385,465 L380,440 L350,445 C335,470 300,492 270,495 C240,496 212,485 205,470 L200,430 L210,400 C160,360 110,300 95,260 C88,240 85,225 85,210 Z"/>
<path class="l" d="M140,215 C145,190 175,165 215,175 L215,160 M140,215 C145,255 200,315 262,342 M140,215 V240 M95,225 C110,290 160,350 215,392 M215,175 L250,195 M250,130 L255,150 L310,120 L310,85 M350,175 L395,180 L450,205 L480,225 L485,250 L440,285 L385,320 L330,345 L262,342 M395,180 V215 L440,240 L440,285 M440,240 L470,225 M485,250 L545,215 L545,145 M545,180 L660,250 L720,220 M660,250 L655,275 M595,270 L655,250 M595,270 C580,300 578,360 588,392 L650,440 L670,510 M540,400 L545,362 L500,385 L385,405 L350,412 L350,445 M385,405 V465 M480,420 L482,390 M200,430 C215,445 250,455 290,450 C320,445 345,430 350,412 M210,400 C225,385 250,378 275,378"/>
<path class="l" d="M195,255 C200,300 260,325 310,318 C350,312 385,290 385,255 M225,228 C230,262 275,275 310,268 C340,262 365,245 365,222 M225,228 C228,205 250,192 270,188 M270,165 V200 C280,222 340,222 350,200 V165"/>
<ellipse class="w" cx="310" cy="165" rx="40" ry="25"/>
<ellipse class="l" cx="310" cy="160" rx="20" ry="12"/>
<path class="w" d="M367,125 V140 C375,165 435,165 443,140 V125 Z"/>
<ellipse class="w" cx="405" cy="125" rx="38" ry="25"/>
<path class="w" d="M665,300 C665,285 680,275 700,272 L750,265 C775,268 795,290 800,320 V430 L775,445 L680,490 L665,470 Z"/>
<rect class="l" x="708" y="300" width="78" height="108" rx="36"/>
<path class="l" d="M680,490 V310 C680,295 690,285 705,280"/>
<ellipse class="l" cx="270" cy="405" rx="40" ry="22"/>
<ellipse class="l" cx="270" cy="405" rx="18" ry="10"/>
<path class="l" d="M272,95 V405"/>
</g>
<!-- gasket 14 -->
<path class="g" d="M175,660 C185,652 195,652 205,658 L258,695 L365,638 C380,630 395,630 408,636 L650,775 C665,785 665,800 655,808 L612,834 C600,840 588,840 578,836 L512,800 C502,796 492,796 484,802 L442,832 C432,838 420,838 408,834 L300,810 C260,795 230,775 210,750 C190,725 178,700 172,680 C170,670 172,664 175,660 Z"/>
<path class="l" d="M578,840 C590,870 596,900 598,940"/>
<!-- spring 16 -->
<ellipse class="w" cx="340" cy="965" rx="60" ry="30"/>
<ellipse class="w" cx="340" cy="942" rx="60" ry="30"/>
<ellipse class="w" cx="340" cy="915" rx="60" ry="30"/>
<ellipse class="w" cx="340" cy="890" rx="58" ry="29"/>
<ellipse class="l" cx="340" cy="892" rx="46" ry="21"/>
<path class="c" d="M278,990 V1180 M402,990 V1180"/>
<ellipse class="w" cx="340" cy="1232" rx="60" ry="30"/>
<ellipse class="w" cx="340" cy="1210" rx="60" ry="30"/>
<ellipse class="l" cx="340" cy="1212" rx="48" ry="22"/>
<path class="l" d="M402,1208 L520,1212"/>
<!-- part 13 -->
<path class="w" d="M322,1310 C325,1298 352,1298 355,1310 V1340 H322 Z"/>
<path class="w" d="M300,1345 C305,1332 370,1332 375,1345 V1372 H300 Z"/>
<path class="w" d="M280,1385 C285,1362 390,1362 395,1385 V1470 L385,1480 V1498 C370,1520 305,1520 290,1498 V1480 L280,1470 Z"/>
<path class="l" d="M280,1470 C300,1490 375,1490 395,1470 M290,1482 C310,1500 365,1500 385,1482 M300,1352 C315,1364 360,1364 375,1352"/>
<path class="l" d="M395,1400 L520,1405"/>
<!-- part 24 -->
<path class="w" d="M250,1675 V1695 C270,1745 410,1745 430,1695 V1675 Z"/>
<ellipse class="w" cx="340" cy="1675" rx="92" ry="45"/>
<ellipse class="l" cx="340" cy="1668" rx="78" ry="36"/>
<path class="w" d="M278,1580 V1650 C295,1680 385,1680 402,1650 V1580 Z"/>
<path class="l" d="M278,1632 C295,1660 385,1660 402,1632"/>
<ellipse class="w" cx="340" cy="1580" rx="62" ry="32"/>
<ellipse class="l" cx="340" cy="1582" rx="48" ry="23"/>
<path class="l" d="M430,1650 L520,1650"/>
<!-- spring 33 -->
<g fill="#fff" stroke="#000" stroke-width="1.4">
<ellipse cx="342" cy="1818" rx="36" ry="14"/><ellipse cx="342" cy="1806" rx="36" ry="14"/><ellipse cx="342" cy="1794" rx="36" ry="14"/><ellipse cx="342" cy="1782" rx="36" ry="14"/><ellipse cx="342" cy="1770" rx="36" ry="14"/><ellipse cx="342" cy="1758" rx="34" ry="13"/>
</g>
<path class="l" d="M378,1795 L520,1798"/>
<!-- part 32 -->
<path class="w" d="M303,1870 V1915 C310,1945 375,1945 383,1915 V1870 Z"/>
<ellipse class="w" cx="343" cy="1870" rx="40" ry="20"/>
<ellipse class="l" cx="343" cy="1868" rx="24" ry="12"/>
<ellipse class="l" cx="343" cy="1862" rx="10" ry="6" fill="#000"/>
<path class="l" d="M310,1890 C325,1905 360,1905 376,1890 M383,1905 L520,1918"/>
<!-- e-clip 11 -->
<path d="M322,1970 C300,1975 295,1990 310,2000 C330,2012 365,2008 378,1995 C385,1985 375,1972 358,1970 C362,1978 358,1988 350,1990 C340,1994 325,1990 322,1982 C318,1978 318,1974 322,1970 Z" class="w"/>
<path class="l" d="M383,1995 L520,2032"/>
<!-- needle 10 -->
<path class="w" d="M323,2050 C325,2042 352,2042 355,2050 V2230 L341,2445 L337,2445 L323,2230 Z"/>
<path class="l" d="M323,2062 H355 M323,2074 H355 M323,2086 H355 M323,2098 H355 M339,2110 V2440 M323,2230 H355"/>
<path class="l" d="M357,2230 L520,2260 M339,2478 V2560"/>
</g>

<!-- hose 19 right + clip 22, 6x from (440,470) -->
<g transform="translate(440,470) scale(0.16667)" class="z">
<path class="w" d="M485,572 C485,480 478,420 462,370 C440,300 400,250 350,210 L268,158 C252,145 265,115 292,120 L400,195 C450,235 490,300 512,370 C525,420 528,480 528,575"/>
<path class="l" d="M505,525 V800 M505,815 V830 M505,845 V1030"/>
<path class="w" d="M478,1030 V1370 C485,1388 528,1388 535,1370 V1030"/>
<path class="l" d="M375,575 L478,522"/>
<ellipse class="w" cx="195" cy="97" rx="17" ry="30" transform="rotate(22 195 97)"/>
<path class="l" d="M180,60 L206,76 M225,40 L204,72 M190,126 L178,235"/>
</g>
<!-- screw 34, set 15, 6x from (395,370) -->
<g transform="translate(395,370) scale(0.16667)" class="z">
<!-- 34 -->
<g transform="rotate(50 665 105)">
<rect class="w" x="585" y="93" width="130" height="24" rx="6"/>
<path d="M595,93 V117 M605,93 V117 M615,93 V117 M625,93 V117 M635,93 V117 M645,93 V117 M655,93 V117 M665,93 V117 M675,93 V117 M685,93 V117 M695,93 V117" fill="none" stroke="#000" stroke-width="1.2"/>
<rect class="w" x="712" y="82" width="36" height="46" rx="14"/>
<path class="l" d="M740,90 V120 M746,92 V118"/>
</g>
<path class="l" d="M800,35 L690,90"/>
<!-- line from carb to clip -->

<path d="M365,255 L460,300" fill="none" stroke="#000" stroke-width="1" stroke-dasharray="5 3"/>
<!-- 15 set -->
<ellipse class="w" cx="487" cy="315" rx="14" ry="25" transform="rotate(25 487 315)" style="stroke-width:1.5"/>
<ellipse class="w" cx="540" cy="340" rx="22" ry="32" transform="rotate(25 540 340)"/>
<ellipse class="l" cx="540" cy="340" rx="9" ry="14" transform="rotate(25 540 340)"/>
<g transform="rotate(25 622 368)" fill="#fff" stroke="#000" stroke-width="1.3">
<ellipse cx="645" cy="368" rx="13" ry="32"/><ellipse cx="632" cy="368" rx="13" ry="32"/><ellipse cx="619" cy="368" rx="13" ry="32"/><ellipse cx="606" cy="368" rx="13" ry="32"/>
</g>
<g transform="rotate(25 770 432)">
<rect class="w" x="672" y="418" width="180" height="28" rx="10"/>
<rect class="w" x="840" y="402" width="50" height="60" rx="20"/>
<path class="l" d="M862,404 V460 M870,405 V459 M845,410 V454"/>
</g>
<path class="l" d="M465,345 V440 L745,545 L770,470 M520,385 L518,460 M625,400 L603,493 M645,520 L640,555"/>
</g>
<!-- hose 20, leader 1 ; 3x from (0,580) -->
<g transform="translate(0,580) scale(0.33333)" class="z">
<path class="w" d="M610,340 C640,355 680,380 712,396 M760,424 C790,436 820,442 852,446 M845,470 C820,468 795,462 772,454 M702,420 C670,405 630,380 597,360 C590,350 598,338 610,340" />
<path class="c" d="M700,404 L790,444"/>
<ellipse class="w" cx="855" cy="458" rx="10" ry="13"/>
<ellipse class="l" cx="855" cy="458" rx="5" ry="7"/>
<path class="l" d="M637,295 L657,362 M455,385 L555,347 M550,338 L558,356"/>
</g>
<!-- screw 18 upper ; 3x from (301,580) -->
<g transform="translate(301,580) scale(0.33333)" class="z">
<path class="w" d="M462,418 C465,412 482,412 485,418 V466 H462 Z"/>
<path class="l" d="M462,426 L485,430 M462,434 L485,438 M462,442 L485,446 M462,450 L485,454 M462,458 L485,462"/>
<path class="w" d="M455,470 C458,462 489,462 492,470 V482 C488,490 459,490 455,482 Z"/>
<ellipse class="l" cx="473.500" cy="471" rx="18" ry="6"/>
<path class="l" d="M490,440 L555,450"/>
</g>

<!-- long lines, orig coords -->
<g class="ll">
<!-- left rod from short tube through clip 22 to carb -->
<path class="r" d="M338.1,137 V280.5 M338.1,286.5 V317"/>
<!-- right rod through clip 22 -->
<path class="r" d="M404.9,166 V241.5 M404.9,249.5 V351"/>
<!-- bracket 28 line L1 -->
<path class="l" d="M551.5,139.5 V182 L369.8,277 V284.5"/>
<!-- lever shaft line L2 -->
<path class="l" d="M507.5,158.6 H517.6 V210.6 L412.5,266.8 V311"/>
<!-- roller to slide -->
<path class="l" d="M426.5,172 L387,193"/>
<!-- o-ring 31 to carb -->
<path class="c" d="M285.5,273.5 L342,304.5"/>
<!-- clip 22 far left to carb -->
<path class="c" d="M251.5,293.5 L321,333.5"/>
<!-- sensor 38 line to o-ring 39 -->
<path class="l" d="M605.2,127 V211"/>
<!-- part 2 bracket inside carb -->
<path d="M384.2,348.5 V363 M381.5,363.5 L392,360" fill="none" stroke="#000" stroke-width="1" stroke-dasharray="4 2"/>
<!-- 27 axis -->
<path d="M348.3,395 L339,450" fill="none" stroke="#000" stroke-width="1" stroke-dasharray="4 2"/>
<!-- line to clip 22 right -->
<path class="l" d="M418.5,386 L456.3,408.5 V478 L467,484.5"/>
</g>


<!-- LABELS -->
<g id="labels" style="will-change:transform" opacity="0.999">
<text x="225.9" y="222.4">30</text>
<text x="228.6" y="255.7">31</text>
<text x="427.4" y="55.7">26</text>
<text x="364.4" y="149.7">A</text>
<text x="340.6" y="165.0">12</text>
<text x="486.3" y="136.7">36</text>
<text x="515.7" y="129.0">29</text>
<text x="577.4" y="165.0">28</text>
<text x="560.6" y="186.4">37</text>
<text x="425.1" y="226.0">22</text>
<text x="303.7" y="269.6">22</text>
<text x="588.9" y="279.0">37</text>
<text x="649.5" y="53.0">40</text>
<text x="669.6" y="129.0">38</text>
<text x="618.9" y="247.4">39</text>
<text x="139.8" y="321.0">19</text>
<text x="209.4" y="331.4">22</text>
<text x="228.0" y="386.4">2</text>
<text x="280.4" y="466.4">27</text>
<text x="281.9" y="574.7">3</text>
<text x="510.3" y="345.7">35</text>
<text x="530.3" y="373.4">34</text>
<text x="490.6" y="479.7">15</text>
<text x="459.7" y="525.0">22</text>
<text x="317.2" y="498.0">9</text>
<text x="310.4" y="533.0">23</text>
<text x="420.2" y="520.0">7</text>
<text x="412.2" y="549.0">17</text>
<text x="478.9" y="580.7">19</text>
<text x="636.7" y="373.4">25</text>
<text x="654.9" y="547.4">14</text>
<text x="653.2" y="582.7">16</text>
<text x="653.2" y="615.7">13</text>
<text x="652.7" y="655.9">24</text>
<text x="653.1" y="680.3">33</text>
<text x="652.6" y="700.7">32</text>
<text x="653.2" y="721.4">11</text>
<text x="653.2" y="759.0">10</text>
<text x="616.1" y="820.7">A</text>
<text x="445.4" y="646.7">21</text>
<text x="490.8" y="699.0">8</text>
<text x="484.6" y="736.7">18</text>
<text x="319.1" y="790.0">6</text>
<text x="479.8" y="800.7">8</text>
<text x="316.9" y="823.0">5</text>
<text x="474.6" y="840.0">18</text>
<text x="201.0" y="673.0">20</text>
<text x="268.0" y="699.7">22</text>
<text x="137.2" y="718.0">1</text>
<text x="286.5" y="651.4">4</text>
</g>
</svg>
</body></html>
